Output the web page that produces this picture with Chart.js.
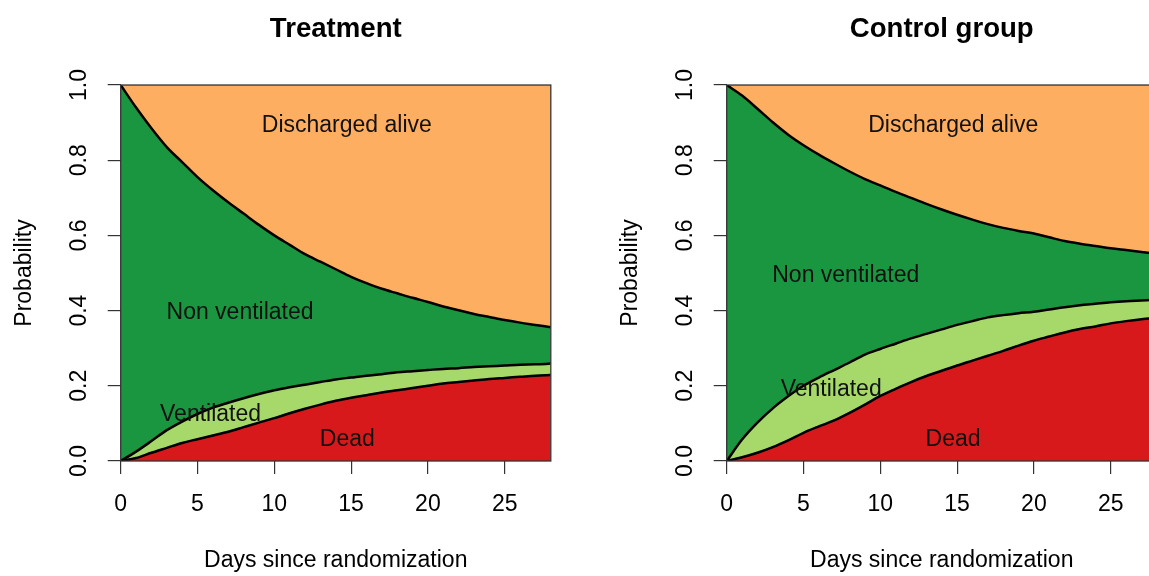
<!DOCTYPE html>
<html>
<head>
<meta charset="utf-8">
<script src="https://cdn.jsdelivr.net/npm/chart.js@4"></script>
<style>
  html, body { margin: 0; padding: 0; background: #fff; overflow: hidden; width: 1149px; height: 576px; }
  #wrap { position: relative; width: 1149px; height: 576px; overflow: hidden; }
  canvas { position: absolute; top: 0; }
  #c1 { left: 0px; }
  #c2 { left: 605.5px; }
</style>
</head>
<body>
<div id="wrap">
  <canvas id="c1" width="672" height="576"></canvas>
  <canvas id="c2" width="672" height="576"></canvas>
</div>
<script>
// ---- data (cumulative upper boundaries of each state band) ----
const days = [0,1,2,3,4,5,6,7,8,9,10,11,12,13,14,15,16,17,18,19,20,21,22,23,24,25,26,27,28];

const treatDeadTop    = [0, 0.008, 0.022, 0.035, 0.048, 0.058, 0.068, 0.078, 0.090, 0.102, 0.114, 0.127, 0.139, 0.150, 0.160, 0.168, 0.175, 0.182, 0.188, 0.194, 0.200, 0.206, 0.210, 0.214, 0.218, 0.221, 0.224, 0.227, 0.229];
const treatVentTop    = [0, 0.025, 0.053, 0.082, 0.105, 0.125, 0.142, 0.155, 0.167, 0.178, 0.188, 0.196, 0.203, 0.210, 0.217, 0.222, 0.227, 0.231, 0.236, 0.239, 0.242, 0.245, 0.247, 0.250, 0.252, 0.254, 0.256, 0.257, 0.259];
const treatNonVentTop = [1.0, 0.940, 0.885, 0.835, 0.795, 0.755, 0.720, 0.688, 0.658, 0.628, 0.600, 0.575, 0.550, 0.530, 0.510, 0.490, 0.473, 0.458, 0.446, 0.434, 0.423, 0.411, 0.401, 0.391, 0.383, 0.375, 0.368, 0.362, 0.356];

const ctrlDeadTop     = [0, 0.010, 0.022, 0.037, 0.055, 0.075, 0.092, 0.108, 0.128, 0.150, 0.173, 0.192, 0.210, 0.226, 0.240, 0.254, 0.267, 0.280, 0.293, 0.307, 0.320, 0.331, 0.342, 0.351, 0.358, 0.366, 0.372, 0.377, 0.381];
const ctrlVentTop     = [0, 0.057, 0.102, 0.140, 0.172, 0.200, 0.222, 0.242, 0.262, 0.283, 0.298, 0.312, 0.326, 0.338, 0.350, 0.362, 0.372, 0.382, 0.388, 0.393, 0.397, 0.403, 0.409, 0.414, 0.418, 0.422, 0.425, 0.427, 0.429];
const ctrlNonVentTop  = [1.0, 0.972, 0.937, 0.901, 0.868, 0.840, 0.815, 0.792, 0.770, 0.750, 0.733, 0.716, 0.700, 0.684, 0.669, 0.655, 0.642, 0.630, 0.620, 0.612, 0.605, 0.595, 0.585, 0.578, 0.572, 0.566, 0.561, 0.556, 0.551];

const stateNames = ["Dead", "Ventilated", "Non ventilated", "Discharged alive"];
const xTicks = [0, 5, 10, 15, 20, 25];
const yTicks = [0.0, 0.2, 0.4, 0.6, 0.8, 1.0];

// annotation anchor points (data coordinates) for the band labels
const treatLabelPos = [[14.75, 0.058], [5.85, 0.122], [7.77, 0.395], [14.72, 0.892]];
const ctrlLabelPos  = [[14.74, 0.058], [6.8, 0.191], [7.75, 0.492], [14.75, 0.892]];

// ---- styling ----
const COLORS = { dead: '#d7191c', vent: '#a6d96a', nonvent: '#1a9641', disch: '#fdae61' };
const FONT = "'Liberation Sans', Arial, Helvetica, sans-serif";

function pts(ys) { return days.map((d, i) => ({ x: d, y: ys[i] })); }

const boxPlugin = {
  id: 'rbox',
  afterDraw(chart) {
    const a = chart.chartArea, ctx = chart.ctx;
    ctx.save();
    ctx.strokeStyle = '#333';
    ctx.lineWidth = 1.3;
    ctx.strokeRect(a.left, a.top, a.right - a.left, a.bottom - a.top);
    ctx.restore();
  }
};

const labelPlugin = {
  id: 'bandLabels',
  afterDatasetsDraw(chart, args, opts) {
    const ctx = chart.ctx, xs = chart.scales.x, ys = chart.scales.y;
    ctx.save();
    ctx.font = '23px ' + FONT;
    ctx.fillStyle = '#111';
    ctx.textAlign = 'center';
    ctx.textBaseline = 'middle';
    opts.positions.forEach((p, i) => {
      ctx.fillText(stateNames[i], xs.getPixelForValue(p[0]), ys.getPixelForValue(p[1]));
    });
    ctx.restore();
  }
};

function makeChart(id, title, deadTop, ventTop, nonVentTop, labelPos) {
  const line = { pointRadius: 0, borderColor: '#000', borderWidth: 2.5, cubicInterpolationMode: 'monotone' };
  return new Chart(document.getElementById(id), {
    type: 'line',
    data: {
      datasets: [
        Object.assign({ label: stateNames[0], data: pts(deadTop), fill: 'origin', backgroundColor: COLORS.dead }, line),
        Object.assign({ label: stateNames[1], data: pts(ventTop), fill: '-1', backgroundColor: COLORS.vent }, line),
        Object.assign({ label: stateNames[2], data: pts(nonVentTop), fill: '-1', backgroundColor: COLORS.nonvent }, line),
        Object.assign({ label: stateNames[3], data: pts(nonVentTop), fill: 'end', backgroundColor: COLORS.disch }, line, { borderWidth: 0 })
      ]
    },
    options: {
      responsive: false,
      animation: false,
      devicePixelRatio: 1,
      layout: { padding: { left: 0, right: 121.2, top: 0, bottom: 0 } },
      plugins: {
        legend: { display: false },
        tooltip: { enabled: false },
        title: {
          display: true, text: title, color: '#000', fullSize: false,
          font: { family: FONT, size: 27.6, weight: 'bold', lineHeight: 1.2 },
          padding: { top: 12.5, bottom: 39.4 }
        },
        bandLabels: { positions: labelPos }
      },
      scales: {
        x: {
          type: 'linear', min: 0, max: 28,
          afterFit(s) { s.height = 115; },
          afterBuildTicks(s) { s.ticks = xTicks.map(v => ({ value: v })); },
          border: { display: false },
          grid: { drawOnChartArea: false, drawTicks: true, tickLength: 13, color: '#333', lineWidth: 1.2 },
          ticks: { color: '#000', padding: 16.5, font: { family: FONT, size: 23 }, callback: v => String(v), maxRotation: 0, autoSkip: false },
          title: { display: true, text: 'Days since randomization', color: '#000', font: { family: FONT, size: 23 }, padding: { top: 0, bottom: 1.2 } }
        },
        y: {
          type: 'linear', min: 0, max: 1,
          afterFit(s) { s.width = 120.7; },
          afterBuildTicks(s) { s.ticks = yTicks.map(v => ({ value: v })); },
          border: { display: false },
          grid: { drawOnChartArea: false, drawTicks: true, tickLength: 13, color: '#333', lineWidth: 1.2 },
          ticks: { color: '#000', padding: 11.7, minRotation: 90, maxRotation: 90, crossAlign: 'center', font: { family: FONT, size: 23 }, callback: v => Number(v).toFixed(1), autoSkip: false },
          title: { display: true, text: 'Probability', color: '#000', font: { family: FONT, size: 23 }, padding: { top: 10.7, bottom: 0 } }
        }
      }
    },
    plugins: [boxPlugin, labelPlugin]
  });
}

makeChart('c1', 'Treatment', treatDeadTop, treatVentTop, treatNonVentTop, treatLabelPos);
makeChart('c2', 'Control group', ctrlDeadTop, ctrlVentTop, ctrlNonVentTop, ctrlLabelPos);
</script>
</body>
</html>
